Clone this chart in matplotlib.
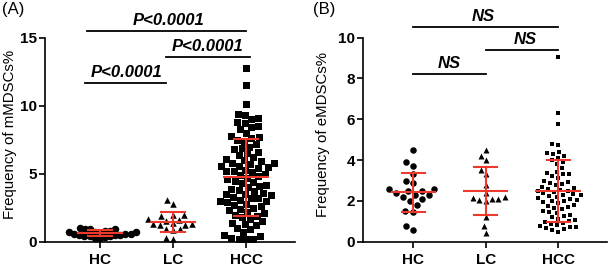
import numpy as np
import matplotlib
matplotlib.use("Agg")
import matplotlib.pyplot as plt

plt.rcParams['font.family'] = ['Liberation Sans', 'DejaVu Sans']

groups = ["HC", "LC", "HCC"]

# panel A: mMDSCs %
a_hc = [1.0, 0.95, 0.95, 0.9, 0.8, 0.8, 0.7, 0.7, 0.7, 0.65, 0.6, 0.6, 0.55,
        0.5, 0.5, 0.5, 0.45, 0.4, 0.4, 0.35, 0.3, 0.25]
a_lc = [3.1, 2.8, 2.0, 1.95, 1.9, 1.65, 1.6, 1.55, 1.4, 1.3, 1.3, 1.25, 1.2,
        0.95, 0.9, 0.85, 0.25, 0.2]
a_hcc = [12.8, 11.5, 10.1, 9.4, 9.3, 9.1, 9.0, 8.8, 8.7, 8.5, 8.4, 8.3, 8.0,
         7.7, 7.6, 7.5, 7.4, 7.2, 7.0, 6.9, 6.8, 6.6, 6.4, 6.2, 6.1, 6.0, 5.9,
         5.8, 5.7, 5.6, 5.6, 5.5, 5.4, 5.3, 5.2, 5.1, 5.0, 4.9, 4.8, 4.7, 4.6,
         4.5, 4.4, 4.3, 4.2, 4.1, 4.0, 3.9, 3.8, 3.7, 3.6, 3.5, 3.5, 3.4, 3.3,
         3.2, 3.2, 3.1, 3.0, 3.0, 2.9, 2.8, 2.7, 2.6, 2.5, 2.4, 2.3, 2.2, 2.1,
         2.0, 1.9, 1.8, 1.7, 1.5, 1.4, 1.3, 1.2, 1.0, 0.9, 0.7, 0.5, 0.4, 0.3,
         0.2, 0.2, 0.2, 7.8, 6.5, 5.8, 5.2]

# panel B: eMDSCs %
b_hc = [4.5, 3.9, 3.7, 3.3, 3.0, 2.9, 2.6, 2.6, 2.5, 2.5, 2.4, 2.3, 2.3, 2.2,
        2.1, 2.0, 1.8, 1.5, 1.45, 0.75, 0.55]
b_lc = [4.5, 4.2, 4.0, 3.5, 3.3, 2.8, 2.4, 2.2, 2.15, 2.1, 2.1, 2.05, 2.0,
        1.2, 0.75, 0.45]
b_hcc = [9.05, 6.3, 5.75, 4.8, 4.75, 4.4, 4.35, 4.3, 4.2, 4.1, 4.0, 3.9, 3.8,
         3.6, 3.4, 3.35, 3.3, 3.3, 3.2, 3.1, 3.0, 2.95, 2.9, 2.85, 2.8, 2.7,
         2.65, 2.6, 2.55, 2.5, 2.5, 2.45, 2.4, 2.35, 2.3, 2.3, 2.25, 2.2, 2.15,
         2.1, 2.05, 2.0, 2.0, 1.95, 1.9, 1.8, 1.75, 1.7, 1.65, 1.6, 1.5, 1.45,
         1.4, 1.3, 1.25, 1.2, 1.1, 1.05, 1.0, 0.95, 0.9, 0.85, 0.8, 0.75, 0.7,
         0.7, 0.65, 0.6, 0.55, 0.5]

a_sig = ["P<0.0001", "P<0.0001", "P<0.0001"]
b_sig = ["NS", "NS", "NS"]

RED = "#ee3a2c"


def swarm(vals, d, px_x, px_y):
    # simple beeswarm offsets (data units) so markers d px apart don't collide
    ys = np.asarray(vals) * px_y
    order = np.argsort(ys)
    placed = []
    offs = np.zeros(len(ys))
    for i in order:
        y = ys[i]
        bad = []
        for (xj, yj) in placed:
            dy = abs(y - yj)
            if dy < d:
                w = np.sqrt(d * d - dy * dy)
                bad.append((xj - w, xj + w))
        cands = [0.0] + [e for b in bad for e in b]
        cands.sort(key=abs)
        for c in cands:
            if all(not (lo + 1e-6 < c < hi - 1e-6) for lo, hi in bad):
                break
        offs[i] = c
        placed.append((c, y))
    return offs / px_x


def panel(ax, data, markers, sizes, gaps, ylim, yticks, ylabel, labx, brackets, sig):
    px_x = ax.get_position().width * 611 / (ax.get_xlim()[1] - ax.get_xlim()[0])
    px_y = ax.get_position().height * 269 / (ylim[1] - ylim[0])
    for i, (vals, m, s, g) in enumerate(zip(data, markers, sizes, gaps)):
        off = swarm(vals, g, px_x, px_y)
        ax.scatter(i + off, vals, marker=m, s=(s * 0.72) ** 2, color="black",
                   linewidths=0, zorder=2, clip_on=False)
        mu = np.mean(vals)
        sd = np.std(vals, ddof=1)
        ax.plot([i - 0.3, i + 0.3], [mu, mu], color=RED, lw=1.5, zorder=3)
        ax.plot([i, i], [mu - sd, mu + sd], color=RED, lw=1.5, zorder=3)
        for yy in (mu - sd, mu + sd):
            ax.plot([i - 0.16, i + 0.16], [yy, yy], color=RED, lw=1.5, zorder=3)
    ax.set_ylim(*ylim)
    ax.set_yticks(yticks)
    ax.set_xticks(range(3))
    ax.set_xticklabels(groups)
    ax.set_ylabel(ylabel, fontsize=10.8)
    ax.yaxis.set_label_coords(labx, 0.525)
    for lab in ax.get_xticklabels() + ax.get_yticklabels():
        lab.set_fontweight("bold")
        lab.set_fontsize(11)
    ax.tick_params(width=1.2, length=4, pad=2)
    ax.tick_params(axis="x", pad=4)
    for sp in ["top", "right"]:
        ax.spines[sp].set_visible(False)
    for sp in ["left", "bottom"]:
        ax.spines[sp].set_linewidth(1.2)
    for (x0, x1, y, tx), s in zip(brackets, sig):
        ax.plot([x0, x1], [y, y], color="black", lw=1.3, clip_on=False)
        ax.text(tx, y + (ylim[1] - ylim[0]) * 0.015, s, ha="center", va="bottom",
                fontsize=12, fontweight="bold", fontstyle="italic")


fig = plt.figure(figsize=(6.11, 2.69), dpi=100)
axA = fig.add_axes([45 / 611, 27.3 / 269, 250 / 611, 204 / 269])
axA.set_xlim(-0.75, 2.67)
axB = fig.add_axes([363.3 / 611, 27.3 / 269, 243.4 / 611, 204 / 269])
axB.set_xlim(-0.69, 2.67)

panel(axA, [a_hc, a_lc, a_hcc], ["o", "^", "s"], [7.5, 6.5, 7], [5.2, 7, 7.4],
      (0, 15), [0, 5, 10, 15], "Frequency of mMDSCs%", -0.11,
      [(-0.2, 0.9, 11.7, 0.37), (0.9, 2.06, 13.6, 1.47), (-0.17, 2.0, 15.5, 0.94)],
      a_sig)
panel(axB, [b_hc, b_lc, b_hcc], ["o", "^", "s"], [6.5, 6, 4.5], [8, 6.5, 6.2],
      (0, 10), [0, 2, 4, 6, 8, 10], "Frequency of eMDSCs%", -0.137,
      [(0, 1, 8.24, 0.5), (1, 2, 9.41, 1.54), (0, 2, 10.52, 0.96)],
      b_sig)

fig.text(2 / 611, 1 - 2 / 269, "(A)", fontsize=12, va="top", ha="left")
fig.text(313 / 611, 1 - 2 / 269, "(B)", fontsize=12, va="top", ha="left")

fig.savefig("out.png", dpi=100)
